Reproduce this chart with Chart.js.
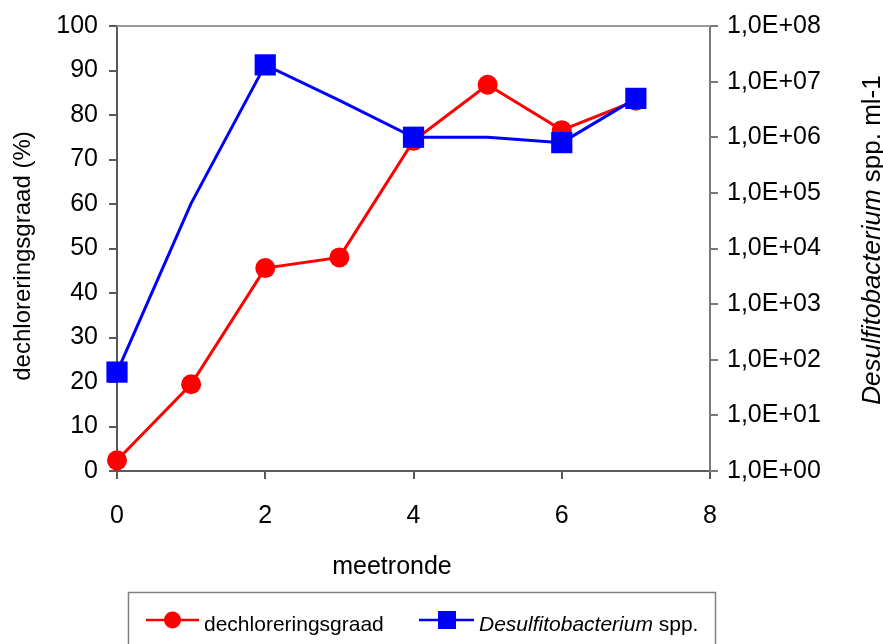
<!DOCTYPE html>
<html>
<head>
<meta charset="utf-8">
<script src="https://cdn.jsdelivr.net/npm/chart.js@4.4.1/dist/chart.umd.min.js"></script>
<style>
    html, body { margin: 0; padding: 0; background: #ffffff; }
</style>
</head>
<body>
<canvas id="grafiek" width="883" height="644"></canvas>
<script>
// meetgegevens
const meetrondes = [0, 1, 2, 3, 4, 5, 6, 7];
const dechlorering = [2.4, 19.5, 45.6, 48, 74.2, 86.8, 76.6, 83.2];         // %
const desulfito = [60, 6.5e4, 2.0e7, 4.6e6, 1.0e6, 1.0e6, 8.0e5, 5.0e6];    // spp. ml-1
const desulfitoMarker = [true, false, true, false, true, false, true, true];

const xTicks = [0, 2, 4, 6, 8];
const linksTicks = [0, 10, 20, 30, 40, 50, 60, 70, 80, 90, 100];
const rechtsTicks = [1, 1e1, 1e2, 1e3, 1e4, 1e5, 1e6, 1e7, 1e8];
const rechtsLabels = ['1,0E+00', '1,0E+01', '1,0E+02', '1,0E+03', '1,0E+04',
                      '1,0E+05', '1,0E+06', '1,0E+07', '1,0E+08'];

const FONT = "'Liberation Sans', Arial, sans-serif";
const ROOD = '#FF0000';
const BLAUW = '#0000FF';
const AS_KLEUR = '#5a5a5a';

// titels, kader en legenda die Chart.js niet zelf kan tekenen (gemengd cursief)
const extraTekening = {
    id: 'extraTekening',
    beforeDatasetsDraw(chart) {
        const { ctx, chartArea } = chart;
        ctx.save();
        ctx.strokeStyle = '#9a9a9a';
        ctx.lineWidth = 2;
        ctx.beginPath();
        ctx.moveTo(chartArea.left, chartArea.top);
        ctx.lineTo(chartArea.right, chartArea.top);
        ctx.stroke();
        ctx.restore();
    },
    afterDraw(chart) {
        const ctx = chart.ctx;
        ctx.save();
        ctx.fillStyle = '#000';
        ctx.textBaseline = 'alphabetic';

        // x-as titel
        ctx.font = '25px ' + FONT;
        ctx.textAlign = 'center';
        ctx.fillText('meetronde', 392, 574);

        // linker as titel
        ctx.save();
        ctx.translate(30, 256);
        ctx.rotate(-Math.PI / 2);
        ctx.font = '24px ' + FONT;
        ctx.textAlign = 'center';
        ctx.fillText('dechloreringsgraad (%)', 0, 0);
        ctx.restore();

        // rechter as titel: cursief + normaal
        ctx.save();
        ctx.translate(880, 240);
        ctx.rotate(-Math.PI / 2);
        ctx.textAlign = 'left';
        ctx.font = 'italic 26px ' + FONT;
        const deel1 = 'Desulfitobacterium';
        const w1 = ctx.measureText(deel1).width;
        ctx.font = '26px ' + FONT;
        const deel2 = ' spp. ml-1';
        const w2 = ctx.measureText(deel2).width;
        let start = -(w1 + w2) / 2;
        ctx.font = 'italic 26px ' + FONT;
        ctx.fillText(deel1, start, 0);
        ctx.font = '26px ' + FONT;
        ctx.fillText(deel2, start + w1, 0);
        ctx.restore();

        // legenda
        ctx.strokeStyle = '#808080';
        ctx.lineWidth = 1.5;
        ctx.strokeRect(128.5, 592.5, 587, 80);

        const ly = 620;
        const sets = chart.data.datasets;
        const rood = sets[1];
        const blauw = sets[0];

        ctx.strokeStyle = rood.borderColor;
        ctx.fillStyle = rood.borderColor;
        ctx.lineWidth = 2.5;
        ctx.beginPath();
        ctx.moveTo(146, ly);
        ctx.lineTo(199, ly);
        ctx.stroke();
        ctx.beginPath();
        ctx.arc(172.5, ly, 8.5, 0, Math.PI * 2);
        ctx.fill();

        ctx.strokeStyle = blauw.borderColor;
        ctx.fillStyle = blauw.borderColor;
        ctx.beginPath();
        ctx.moveTo(419, ly);
        ctx.lineTo(474, ly);
        ctx.stroke();
        ctx.fillRect(447 - 9, ly - 9, 18, 18);

        ctx.fillStyle = '#000';
        ctx.textAlign = 'left';
        ctx.font = '21px ' + FONT;
        ctx.fillText(rood.label, 204, 631);
        ctx.font = 'italic 21px ' + FONT;
        const naam = 'Desulfitobacterium';
        ctx.fillText(naam, 479, 631);
        const wn = ctx.measureText(naam).width;
        ctx.font = '21px ' + FONT;
        ctx.fillText(' spp.', 479 + wn, 631);

        ctx.restore();
    }
};

const ctx = document.getElementById('grafiek').getContext('2d');

new Chart(ctx, {
    type: 'line',
    data: {
        datasets: [{
            label: 'Desulfitobacterium spp.',
            data: meetrondes.map((x, i) => ({ x: x, y: desulfito[i] })),
            yAxisID: 'y1',
            borderColor: BLAUW,
            backgroundColor: BLAUW,
            borderWidth: 3,
            pointStyle: 'rect',
            pointRadius: desulfitoMarker.map(m => m ? 15 : 0),
            pointBorderWidth: 0,
            tension: 0,
            clip: false,
            order: 0
        }, {
            label: 'dechloreringsgraad',
            data: meetrondes.map((x, i) => ({ x: x, y: dechlorering[i] })),
            yAxisID: 'y',
            borderColor: ROOD,
            backgroundColor: ROOD,
            borderWidth: 3,
            pointStyle: 'circle',
            pointRadius: 10,
            pointBorderWidth: 0,
            tension: 0,
            clip: false,
            order: 1
        }]
    },
    options: {
        responsive: false,
        animation: false,
        events: [],
        layout: { padding: { top: 21, left: 0, right: 0, bottom: 0 } },
        plugins: {
            legend: { display: false },
            tooltip: { enabled: false }
        },
        scales: {
            x: {
                type: 'linear',
                position: 'bottom',
                min: 0,
                max: 8,
                afterBuildTicks: s => { s.ticks = xTicks.map(v => ({ value: v })); },
                afterFit: s => { s.height = 173; },
                ticks: { color: '#000', padding: 22, font: { family: FONT, size: 25 } },
                grid: { drawOnChartArea: false, drawTicks: true, tickLength: 8, color: AS_KLEUR, lineWidth: 2 },
                border: { display: true, color: AS_KLEUR, width: 2 }
            },
            y: {
                type: 'linear',
                position: 'left',
                min: 0,
                max: 100,
                afterBuildTicks: s => { s.ticks = linksTicks.map(v => ({ value: v })); },
                afterFit: s => { s.width = 117; },
                ticks: { color: '#000', padding: 11, font: { family: FONT, size: 25 } },
                grid: { drawOnChartArea: false, drawTicks: true, tickLength: 8, color: AS_KLEUR, lineWidth: 2 },
                border: { display: true, color: AS_KLEUR, width: 2 }
            },
            y1: {
                type: 'logarithmic',
                position: 'right',
                min: 1,
                max: 1e8,
                afterBuildTicks: s => { s.ticks = rechtsTicks.map(v => ({ value: v })); },
                afterFit: s => { s.width = 173; },
                ticks: {
                    color: '#000',
                    padding: 9,
                    font: { family: FONT, size: 25 },
                    callback: (v, i) => rechtsLabels[i]
                },
                grid: { drawOnChartArea: false, drawTicks: true, tickLength: 8, color: '#7a7a7a', lineWidth: 2 },
                border: { display: true, color: '#7a7a7a', width: 2 }
            }
        }
    },
    plugins: [extraTekening]
});
</script>
</body>
</html>
